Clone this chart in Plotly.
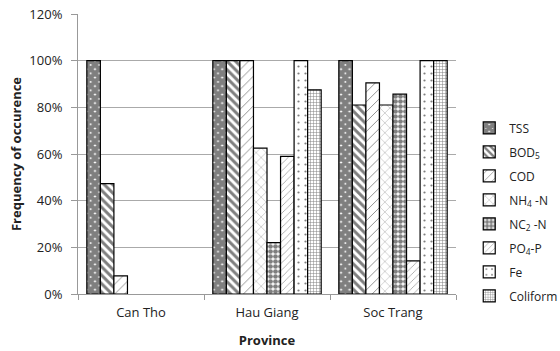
import plotly.graph_objects as go

provinces = ["Can Tho", "Hau Giang", "Soc Trang"]
series_names = ["TSS", "BOD<sub>5</sub>", "COD", "NH<sub>4</sub> -N", "NC<sub>2</sub> -N",
                "PO<sub>4</sub>-P", "Fe", "Coliform"]
tss = [1.00, 1.00, 1.00]
bod5 = [0.473, 1.00, 0.81]
cod = [0.078, 1.00, 0.905]
nh4 = [0.0, 0.625, 0.81]
nc2 = [0.0, 0.22, 0.857]
po4 = [0.0, 0.59, 0.142]
fe = [0.0, 1.00, 1.00]
coliform = [0.0, 0.875, 1.00]
values = [tss, bod5, cod, nh4, nc2, po4, fe, coliform]

patterns = [
    dict(shape="x", size=6, solidity=0.92),
    dict(shape="\\", size=6, solidity=0.5),
    dict(shape="/", size=7, solidity=0.12),
    dict(shape="x", size=7, solidity=0.1),
    dict(shape=".", size=5, solidity=0.7),
    dict(shape="/", size=5, solidity=0.12),
    dict(shape=".", size=7, solidity=0.08),
    dict(shape="+", size=3, solidity=0.3),
]

fig = go.Figure()
for name, vals, pat in zip(series_names, values, patterns):
    fig.add_trace(go.Bar(
        x=provinces, y=[v if v > 0 else None for v in vals], name=name, legendgroup=name,
        marker=dict(color="white",
                    line=dict(color="black", width=1.2),
                    pattern=dict(fgcolor="black", bgcolor="white", **pat)),
    ))

fig.update_layout(
    width=560, height=351,
    barmode="group", bargap=0.14, bargroupgap=0,
    paper_bgcolor="white", plot_bgcolor="white",
    margin=dict(l=78, r=104, t=14, b=57, autoexpand=False),
    font=dict(family="Open Sans, Liberation Sans, sans-serif", size=13, color="#222"),
    legend=dict(x=1.035, xanchor="left", y=0.293, yanchor="middle",
                font=dict(size=12), tracegroupgap=5, itemwidth=30),
    xaxis=dict(
        title=dict(text="<b>Province</b>", font=dict(size=13), standoff=16),
        showline=True, linecolor="#999", ticks="outside", tickson="boundaries",
        ticklen=5, tickcolor="#999", showgrid=False, automargin=False,
        ticklabelstandoff=6,
    ),
    yaxis=dict(
        title=dict(text="<b>Frequency of occurence</b>", font=dict(size=13), standoff=4),
        range=[0, 1.2], dtick=0.2, tickformat=".0%",
        showline=True, linecolor="#999", ticks="outside", ticklen=6, tickcolor="#999",
        showgrid=True, gridcolor="#aaa", gridwidth=1, zeroline=False, automargin=False,
        ticklabelstandoff=6,
    ),
)

fig.write_html("out.html", config={"displayModeBar": False},
               post_script="document.body.style.margin='0';")
